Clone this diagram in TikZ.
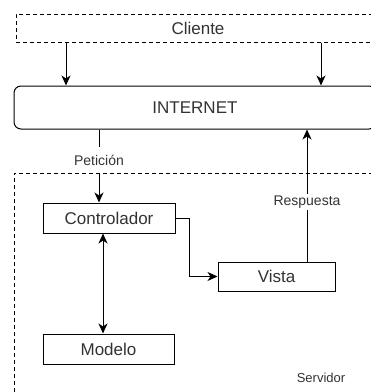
\documentclass[tikz,border=0pt]{standalone}
\usepackage{fontspec}
\setmainfont{Liberation Sans}
\usetikzlibrary{arrows.meta}
\definecolor{txt}{HTML}{333333}
\tikzset{
  box/.style={draw=black, line width=1pt, rectangle, inner sep=0pt, text=txt, font=\fontsize{17}{20}\selectfont},
  dashbox/.style={draw=black, line width=1pt, dash pattern=on 4pt off 3pt},
  tip/.style={Stealth[length=10pt,width=9pt,inset=3pt]},
  conn/.style={line width=1pt, -{Stealth[length=10pt,width=9pt,inset=3pt]}},
  lbl/.style={fill=white, text=txt, inner sep=1.5pt, font=\fontsize{14}{16}\selectfont}
}
\begin{document}
\begin{tikzpicture}[x=1pt,y=-1pt]
\clip (0,0) rectangle (371,392);
\fill[white] (0,0) rectangle (371,392);
% nodes
\node[box, dash pattern=on 4pt off 3pt, minimum width=364pt, minimum height=28pt] (cliente) at (198,28) {Cliente};
\node[box, rounded corners=7pt, minimum width=362pt, minimum height=43pt] (internet) at (195,107.5) {INTERNET};
\node[box, minimum width=132pt, minimum height=30pt] (controlador) at (109,218) {Controlador};
\node[box, minimum width=117pt, minimum height=29pt] (vista) at (276.5,276.5) {Vista};
\node[box, minimum width=131pt, minimum height=30pt] (modelo) at (108.5,349) {Modelo};
\coordinate (ca) at (66,0);
\coordinate (cb) at (321,0);
\coordinate (pe) at (99,0);
\coordinate (re) at (307,0);
\coordinate (cm) at (103,0);
% connectors
\draw[conn] (cliente.south -| ca) -- (internet.north -| ca);
\draw[conn] (cliente.south -| cb) -- (internet.north -| cb);
\draw[conn] (internet.south -| pe) -- (controlador.north -| pe);
\node[lbl, minimum height=27pt] (peticion) at (99,160) {Petición};
\draw[conn] (vista.north -| re) -- node[lbl, pos=0.45] (respuesta) {Respuesta} (internet.south -| re);
\draw[conn] (controlador.east) -- ++(14,0) |- (vista.west);
\draw[line width=1pt, {Stealth[length=10pt,width=9pt,inset=3pt]}-{Stealth[length=10pt,width=9pt,inset=3pt]}] (controlador.south -| cm) -- (modelo.north -| cm);
% servidor container
\draw[dashbox] (380,173) -- (14,173) -- (14,400);
\node[text=txt, font=\fontsize{13}{15}\selectfont] (servidor) at (321,378) {Servidor};
\end{tikzpicture}
\end{document}
